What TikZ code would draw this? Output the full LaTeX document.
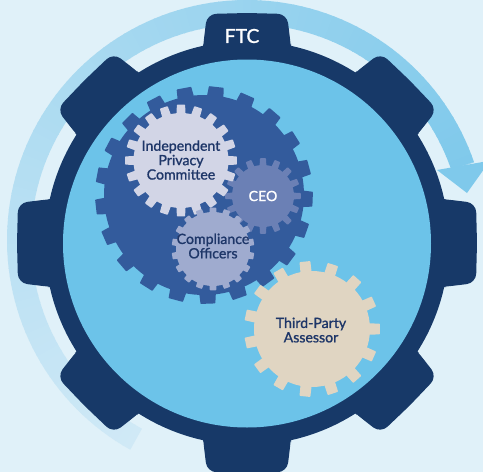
\documentclass[tikz,border=0pt]{standalone}
\usepackage{fontspec}
\setmainfont{Lato}[BoldFont=Lato,BoldFeatures={FakeBold=1.2}]
\definecolor{bgc}{HTML}{E0F1F9}
\definecolor{navy}{HTML}{173968}
\definecolor{sky}{HTML}{6CC3E9}
\definecolor{biggear}{HTML}{335B9C}
\definecolor{privgear}{HTML}{D2D5E6}
\definecolor{ceogear}{HTML}{6B80B5}
\definecolor{compgear}{HTML}{9FABCF}
\definecolor{thirdgear}{HTML}{E0D5C2}
\definecolor{txt}{HTML}{1E3668}
\definecolor{tailc}{HTML}{D0E9F6}
\definecolor{headc}{HTML}{7FC9EB}
\tikzset{
  upat/.style 2 args={shift={(#1,#2)},x=.75pt,y=.75pt},
  lbl/.style={align=center,inner sep=0pt,font=\fontsize{10.6}{10.8}\selectfont\bfseries,text=txt},
}
% centre x, centre y, root r, tip r, teeth, offset, base half-angle, tip half-angle, colour
\newcommand{\gearat}[9]{%
  \begin{scope}[upat={#1}{#2}]
    \fill[#9] (0,0) circle (#3);
    \pgfmathsetmacro{\stepang}{360/#5}
    \foreach \k in {1,...,#5}{
      \pgfmathsetmacro{\ang}{#6+\k*\stepang}
      \fill[#9,rounded corners=.5pt] (\ang-#7:#3-1) -- (\ang-#8:#4) -- (\ang+#8:#4) -- (\ang+#7:#3-1) -- cycle;
    }
  \end{scope}}
\begin{document}
\begin{tikzpicture}[x=.75pt,y=-.75pt]
\useasboundingbox (0,0) rectangle (483,472);
\clip (0,0) rectangle (483,472);
\fill[bgc] (0,0) rectangle (483,472);
% circular arrow
\begin{scope}[upat={247}{240}]
  \foreach \i in {0,...,111}{
    \pgfmathsetmacro{\pct}{\i/111*100}
    \pgfmathsetmacro{\sa}{240.9-\i*2}
    \pgfmathsetmacro{\ea}{max(19,\sa-2.3)}
    \colorlet{bandc}{headc!\pct!tailc}
    \fill[bandc] (\sa:216) arc[start angle=\sa,end angle=\ea,radius=216] -- (\ea:240) arc[start angle=\ea,end angle=\sa,radius=240] -- cycle;
  }
\end{scope}
\fill[headc] (437,170) -- (490,160.7) -- (467,193) -- cycle;
% outer gear
\fill[navy] (247,243) circle[radius=202*.75pt];
\begin{scope}[upat={247}{243}]
  \foreach \a in {0,45,...,315}{
    \begin{scope}[rotate=\a]
      \fill[navy,rounded corners=7pt] (-44,190) -- (-44,196) -- (-40,229) -- (0,230) -- (40,229) -- (44,196) -- (44,190) -- cycle;
    \end{scope}
  }
\end{scope}
\fill[sky] (247,243.5) circle[radius=184*.75pt];
% gears
\gearat{204}{195}{100}{109}{21}{83.5}{4.8}{3.9}{biggear}
\gearat{263}{196}{31}{38}{16}{90}{6.5}{4.5}{ceogear}
\gearat{181}{160.5}{47.5}{56}{20}{90}{5.6}{4.2}{privgear}
\gearat{213}{249}{37}{41.5}{18}{90}{5.5}{4.5}{compgear}
\gearat{312}{329}{58}{68}{15}{0}{5.6}{4.6}{thirdgear}
% labels
\node[lbl,text=white] (ftc) at (242,36) {\fontsize{14.5}{14.5}\selectfont\bfseries FTC};
\node[lbl] (priv) at (181,160) {Independent\\Privacy\\Committee};
\node[lbl,text=white] (ceo) at (263,196) {CEO};
\node[lbl] (comp) at (213,246) {Compliance\\Officers};
\node[lbl] (third) at (311,330) {Third-Party\\Assessor};
\end{tikzpicture}
\end{document}
